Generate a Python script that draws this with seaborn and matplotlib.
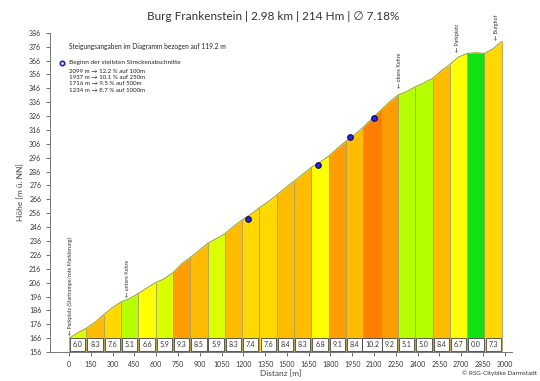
import numpy as np
import pandas as pd
import seaborn as sns
import matplotlib.pyplot as plt

# elevation profile (every half segment, 59.6 m)
distance = [0, 59.6, 119.2, 178.8, 238.4, 298, 357.6, 417.2, 476.8, 536.4,
            596, 655.6, 715.2, 774.8, 834.4, 894, 953.6, 1013.2, 1072.8, 1132.4,
            1192, 1251.6, 1311.2, 1370.8, 1430.4, 1490, 1549.6, 1609.2, 1668.8, 1728.4,
            1788, 1847.6, 1907.2, 1966.8, 2026.4, 2086, 2145.6, 2205.2, 2264.8, 2324.4,
            2384, 2443.6, 2503.2, 2562.8, 2622.4, 2682, 2741.6, 2801.2, 2860.8, 2920.4,
            2980]
elevation = [166.0, 169.8, 173.2, 177.5, 183.0, 188.0, 192.1, 194.6, 198.2, 202.2,
             206.0, 208.8, 213.1, 219.5, 224.2, 229.0, 234.3, 237.6, 241.3, 246.5,
             251.2, 255.3, 260.0, 264.3, 269.1, 274.3, 279.1, 284.0, 289.0, 292.8,
             297.1, 302.7, 307.9, 312.6, 317.9, 324.2, 330.1, 336.0, 341.1, 343.6,
             347.1, 349.9, 353.1, 358.6, 363.1, 368.5, 371.1, 371.6, 371.1, 374.5,
             379.8]

# grade per 119.2 m segment
grades = [6.0, 8.3, 7.6, 5.1, 6.6, 5.9, 9.3, 8.5, 5.9, 8.3, 7.4, 7.6, 8.4,
          8.3, 6.8, 9.1, 8.4, 10.2, 9.2, 5.1, 5.0, 8.4, 6.7, 0.0, 7.3]

# steepest sections
steep_start = [2099, 1937, 1716, 1234]
steep_elev = [324.7, 310.8, 290.8, 251.9]
steep_text = ["2099 m \u2192 12.2 % auf 100m", "1937 m \u2192 10.1 % auf 250m",
              "1716 m \u2192 9.5 % auf 500m", "1234 m \u2192 8.7 % auf 1000m"]

# vertical notes along the route
note_x = [5, 405, 2274, 2673, 2943]
note_y = [168, 196, 346, 372, 381]
note_text = ["\u2190 Parkplatz (Startrampe/rote Markierung)", "\u2190 untere Kehre",
             "\u2190 obere Kehre", "\u2190 Parkplatz", "\u2190 Burghof"]


def grade_color(g):
    if g < 1:
        return "#11e011"
    if g < 5.5:
        return "#b6ff00"
    if g < 6.3:
        return "#dcff00"
    if g < 7.0:
        return "#ffff00"
    if g < 8.0:
        return "#ffd800"
    if g < 9.0:
        return "#ffbb00"
    if g < 10.0:
        return "#ff9c00"
    return "#ff7d00"


sns.set_style("ticks")
plt.rcParams["font.family"] = ["Lato", "DejaVu Sans"]

df = pd.DataFrame({"dist": distance, "elev": elevation})
fig = plt.figure(figsize=(5.4, 3.81), dpi=100)
ax = fig.add_axes([0.093, 0.076, 0.855, 0.838])

d = np.array(distance)
e = np.array(elevation)
for i, g in enumerate(grades):
    sl = slice(2 * i, 2 * i + 3)
    ax.fill_between(d[sl], 156, e[sl], color=grade_color(g), lw=0, zorder=1)
    ax.vlines(d[2 * i], 156, e[2 * i], color="#a89a5a", lw=0.6, zorder=2)
    ax.text((d[2 * i] + d[2 * i + 2]) / 2, 161.3, f"{g:.1f}", ha="center", va="center",
            fontsize=5, color="#333333", zorder=4,
            bbox=dict(boxstyle="square,pad=0.4", fc="white", ec="#444444", lw=0.6))
ax.vlines(d[-1], 156, e[-1], color="#a89a5a", lw=0.6, zorder=2)

sns.lineplot(data=df, x="dist", y="elev", color="#9c9c10", lw=0.7, ax=ax, zorder=3)
sns.scatterplot(x=steep_start, y=steep_elev, ax=ax, s=16, color="#2a2ad8",
                edgecolor="#00007a", linewidth=0.8, zorder=5)

for x, y, t in zip(note_x, note_y, note_text):
    ax.text(x, y, t, rotation=90, ha="center", va="bottom", fontsize=3.8, color="#333333")

ax.text(0, 375.9, "Steigungsangaben im Diagramm bezogen auf 119.2 m", fontsize=4.8,
        va="center", color="#222222")
ax.scatter([-50], [364.4], s=10, facecolor="white", edgecolor="#1a1ad0", lw=1.2, zorder=5)
ax.text(0, 364.4, "Beginn der steilsten Streckenabschnitte", fontsize=4.6, va="center",
        color="#222222")
for k, t in enumerate(steep_text):
    ax.text(0, 358.4 - 4.6 * k, t, fontsize=4.4, va="center", color="#222222",
            linespacing=1.0)

ax.set_xlim(-130, 3050)
ax.set_ylim(156, 386)
ax.set_xticks(np.arange(0, 3001, 150))
ax.set_yticks(np.arange(156, 387, 10))
ax.tick_params(labelsize=5, length=3, width=0.6, colors="#555555", labelcolor="#333333")
for s in ["left", "bottom"]:
    ax.spines[s].set_color("#777777")
    ax.spines[s].set_linewidth(0.7)
sns.despine(ax=ax)

ax.set_xlabel("Distanz [m]", fontsize=6, color="#444444", labelpad=1)
ax.set_ylabel("Höhe [m ü. NN]", fontsize=6, color="#444444", labelpad=3)
fig.text(0.505, 0.957, "Burg Frankenstein | 2.98 km | 214 Hm | \u2205 7.18%", ha="center",
         va="center", fontsize=8.5, color="#333333")
fig.text(0.995, 0.012, "\u00a9 RSG-Citybike Darmstadt", ha="right", va="bottom",
         fontsize=4.5, color="#333333")

fig.savefig("out.png", dpi=100)
